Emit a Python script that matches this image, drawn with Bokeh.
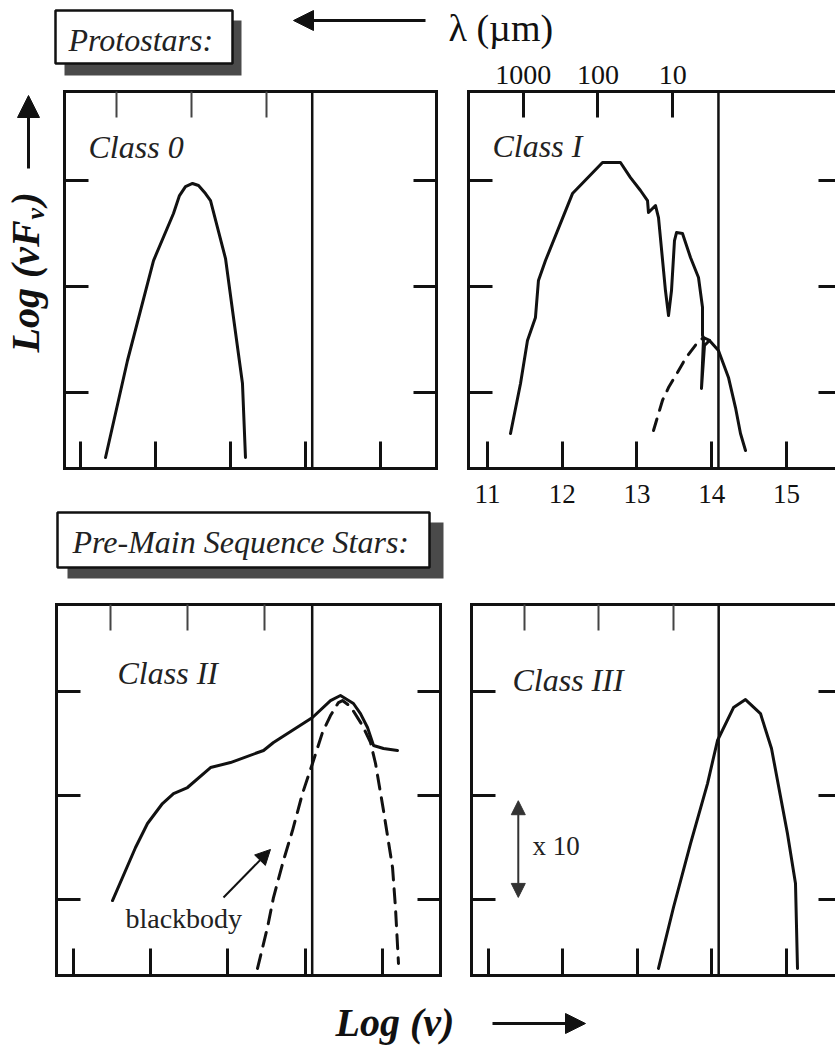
import numpy as np
from bokeh.plotting import figure
from bokeh.models import (Range1d, LinearAxis, FixedTicker, Span, Label, Arrow,
                          NormalHead)
from bokeh.layouts import column, row
from bokeh.embed import file_html
from bokeh.resources import INLINE
from bokeh.core.properties import value

# ---------------- data ----------------
C_UM = 2.998e14  # speed of light in micron/s
nu_ticks = [11, 12, 13, 14, 15]
nu_tick_labels = ["11", "12", "13", "14", "15"]
lam_ticks_um = [1000, 100, 10]
lam_tick_labels = ["1000", "100", "10"]
flux_ticks = [1, 2, 3]
divider_lognu = 14.09

# Class 0 (log nu, log nuFnu)
class0_lognu = [11.334, 11.627, 11.894, 11.974, 12.24, 12.32, 12.40, 12.494, 12.574, 12.667,
                12.734, 12.934, 13.04, 13.16, 13.20]
class0_flux = [0.387, 1.302, 2.028, 2.245, 2.689, 2.858, 2.943, 2.972, 2.953, 2.877,
               2.811, 2.264, 1.708, 1.085, 0.387]

# Class I observed SED
class1_lognu = [11.308, 11.442, 11.535, 11.642, 11.682, 11.776, 12.137, 12.539, 12.779, 12.913,
                13.047, 13.141, 13.154, 13.248, 13.288, 13.381, 13.422, 13.462, 13.502, 13.529,
                13.609, 13.716, 13.823, 13.877, 13.877, 13.890, 13.863, 13.903, 13.970, 14.090,
                14.224, 14.318, 14.385, 14.452]
class1_flux = [0.613, 1.085, 1.491, 1.708, 2.057, 2.245, 2.877, 3.170, 3.170, 3.028,
               2.906, 2.811, 2.698, 2.764, 2.651, 1.962, 1.726, 1.962, 2.434, 2.509,
               2.500, 2.274, 2.085, 1.802, 1.538, 1.509, 1.038, 1.443, 1.491, 1.396,
               1.142, 0.858, 0.613, 0.453]
# Class I stellar photosphere (dashed)
class1_bb_lognu = [13.221, 13.341, 13.422, 13.542, 13.649, 13.810, 13.890, 13.970]
class1_bb_flux = [0.642, 0.925, 1.047, 1.189, 1.321, 1.472, 1.519, 1.491]

# Class II observed SED
class2_lognu = [11.505, 11.803, 11.958, 12.152, 12.295, 12.476, 12.774, 13.032, 13.460, 13.589,
                14.094, 14.327, 14.456, 14.624, 14.715, 14.806, 14.884, 15.013, 15.194]
class2_flux = [0.990, 1.500, 1.731, 1.923, 2.019, 2.077, 2.269, 2.317, 2.433, 2.510,
               2.750, 2.913, 2.962, 2.885, 2.788, 2.654, 2.481, 2.452, 2.433]
# Class II blackbody (dashed)
class2_bb_lognu = [13.382, 13.511, 13.589, 13.718, 13.835, 13.964, 14.094, 14.223, 14.327, 14.430,
                   14.482, 14.586, 14.741, 14.845, 14.910, 15.013, 15.130, 15.168, 15.207]
class2_bb_flux = [0.337, 0.731, 1.019, 1.375, 1.663, 2.019, 2.308, 2.606, 2.769, 2.894,
                  2.913, 2.856, 2.673, 2.510, 2.308, 1.856, 1.308, 0.923, 0.385]

# Class III
class3_lognu = [13.282, 13.483, 13.712, 13.940, 14.074, 14.289, 14.450, 14.651, 14.799, 15.013, 15.121, 15.148]
class3_flux = [0.337, 0.923, 1.538, 2.115, 2.529, 2.846, 2.923, 2.788, 2.452, 1.635, 1.154, 0.337]

lam_tick_pos = [round(float(np.log10(C_UM / l)), 3) for l in lam_ticks_um]

SERIF = "Liberation Serif"
INK = "#111111"
GREYTXT = "#222222"

# top-right panel geometry (page pixels) -> shared log(nu) scale for strips
TR_XR = (10.746, 15.656)
TR_LEFT_PX, PAGE_W = 468, 835
NU_PER_PX = (TR_XR[1] - TR_XR[0]) / (PAGE_W - TR_LEFT_PX)
STRIP_NU = (TR_XR[0] - TR_LEFT_PX * NU_PER_PX, TR_XR[1])


def panel(width, height, borders, xr, yr):
    l, r, t, b = borders
    p = figure(width=width, height=height, x_range=Range1d(*xr), y_range=Range1d(*yr),
               x_axis_type=None, y_axis_type=None, toolbar_location=None,
               output_backend="svg", min_border_left=l, min_border_right=r,
               min_border_top=t, min_border_bottom=b)
    p.outline_line_color = None
    p.background_fill_color = "white"
    p.border_fill_color = "white"
    return p


def strip(width, height, xr, yr, borders=(0, 0, 0, 0)):
    return panel(width, height, borders, xr, yr)


def add_axis(p, side, ticks, tick_len, tick_w=3, line=True, tick_color=INK):
    ax = LinearAxis(ticker=FixedTicker(ticks=list(ticks), minor_ticks=[]))
    ax.axis_line_width = 3
    ax.axis_line_color = INK if line else None
    ax.axis_line_cap = "square"
    ax.major_tick_in = tick_len
    ax.major_tick_out = 0
    ax.minor_tick_in = 0
    ax.minor_tick_out = 0
    ax.major_tick_line_width = tick_w
    ax.major_tick_line_color = tick_color
    ax.major_label_text_font_size = "0px"
    ax.major_label_text_color = None
    ax.major_label_standoff = 0
    p.add_layout(ax, side)
    return ax


def dress(p, right_line=True, top_w=2, top_color="#444444", right_len=23):
    add_axis(p, "left", flux_ticks, 24)
    add_axis(p, "right", flux_ticks, right_len, line=right_line)
    add_axis(p, "below", nu_ticks, 27)
    add_axis(p, "above", lam_tick_pos, 26, tick_w=top_w, tick_color=top_color)
    p.add_layout(Span(location=divider_lognu, dimension="height",
                      line_color=INK, line_width=2.5))


def text_label(p, x, y, text, size, style="normal", color=GREYTXT, angle=0.0, **kw):
    p.add_layout(Label(x=x, y=y, text=text, text_font=SERIF, text_font_style=style,
                       text_font_size=size, text_color=color, text_baseline="middle",
                       angle=angle, **kw))


def class_label(p, x, y, text):
    text_label(p, x, y, text, "32px", style="italic")


def curve(p, x, y, dash="solid"):
    p.line(x, y, line_width=3, line_color=INK, line_dash=dash,
           line_join="round", line_cap="round")


def boxed_title(p, box, shadow, text, tx, ty):
    p.quad(left=[shadow[0]], right=[shadow[1]], top=[shadow[2]], bottom=[shadow[3]],
           fill_color="#4a4a4a", line_color=None)
    p.quad(left=[box[0]], right=[box[1]], top=[box[2]], bottom=[box[3]],
           fill_color="white", line_color=INK, line_width=2.5)
    text_label(p, tx, ty, text, "32px", style="italic")


# ---------------- header strip (page y 0..89) ----------------
hd = strip(835, 89, (0, 835), (89, 0))
hd.extra_x_ranges = {"nu": Range1d(*STRIP_NU)}
boxed_title(hd, (55, 232, 10, 63), (64, 241, 20, 75), "Protostars:", 68, 39)
hd.add_layout(Arrow(end=NormalHead(size=20, fill_color=INK, line_color=INK),
                    x_start=425, y_start=20, x_end=293, y_end=20,
                    line_width=3, line_color=INK))
text_label(hd, 448, 27, "\u03bb (\u00b5m)", "38px", color=INK)
hd.text(x=lam_tick_pos, y=[74] * len(lam_tick_pos), text=lam_tick_labels,
        x_range_name="nu", text_font=value(SERIF), text_font_size=value("28px"),
        text_color=INK, text_align="center", text_baseline="middle")

# ---------------- left strip with vertical title (page y 89..470) ----------------
ls = strip(50, 381, (0, 50), (468, 91), borders=(0, 0, 2, 2))
text_label(ls, 25, 352, "Log (\u03bdF", "40px", style="bold italic", color=INK,
           angle=np.pi / 2)
text_label(ls, 35, 219, "\u03bd", "26px", style="bold italic", color=INK, angle=np.pi / 2)
text_label(ls, 25, 205, ")", "40px", style="bold italic", color=INK, angle=np.pi / 2)
ls.add_layout(Arrow(end=NormalHead(size=22, fill_color=INK, line_color=INK),
                    x_start=28, y_start=168, x_end=28, y_end=95,
                    line_width=3, line_color=INK))

# ---------------- Top left: Class 0 ----------------
tl = panel(395, 381, (14, 9, 2, 2), (10.787, 15.747), (0.283, 3.840))
dress(tl)
curve(tl, class0_lognu, class0_flux)
class_label(tl, 11.107, 3.321, "Class 0")

# ---------------- Top right: Class I ----------------
tr = panel(390, 381, (23, 0, 2, 2), TR_XR, (0.283, 3.840))
dress(tr, right_line=False, top_w=3, top_color=INK, right_len=17)
curve(tr, class1_lognu, class1_flux)
curve(tr, class1_bb_lognu, class1_bb_flux, dash="12 9")
class_label(tr, 11.067, 3.33, "Class I")

# ---------------- middle strip (page y 470..602) ----------------
md = strip(835, 132, (0, 835), (602, 470))
md.extra_x_ranges = {"nu": Range1d(*STRIP_NU)}
md.text(x=nu_ticks, y=[493] * len(nu_ticks), text=nu_tick_labels, x_range_name="nu",
        text_font=value(SERIF), text_font_size=value("27px"), text_color=INK,
        text_align="center", text_baseline="middle")
boxed_title(md, (57, 429, 512, 567), (67, 443, 522, 578), "Pre-Main Sequence Stars:", 72, 541)

# ---------------- Bottom left: Class II ----------------
bl = panel(455, 375, (56, 15, 2, 2), (10.78, 15.751), (0.269, 3.837))
dress(bl)
curve(bl, class2_lognu, class2_flux)
curve(bl, class2_bb_lognu, class2_bb_flux, dash="14 9")
class_label(bl, 11.57, 3.178, "Class II")
text_label(bl, 11.673, 0.8125, "blackbody", "28px")
bl.add_layout(Arrow(end=NormalHead(size=15, fill_color=INK, line_color=INK),
                    x_start=12.942, y_start=1.019, x_end=13.55, y_end=1.481,
                    line_width=2, line_color=INK))

# ---------------- Bottom right: Class III ----------------
br = panel(380, 375, (16, 0, 2, 2), (10.772, 15.658), (0.269, 3.837))
dress(br, right_line=False, right_len=17)
curve(br, class3_lognu, class3_flux)
class_label(br, 11.322, 3.115, "Class III")
br.add_layout(Arrow(start=NormalHead(size=14, fill_color="#333333", line_color="#333333"),
                    end=NormalHead(size=14, fill_color="#333333", line_color="#333333"),
                    x_start=11.40, y_start=1.02, x_end=11.40, y_end=1.95,
                    line_width=2, line_color="#333333"))
text_label(br, 11.591, 1.519, "x 10", "27px")

# ---------------- footer strip (page y 977..1048) ----------------
ft = strip(835, 71, (0, 835), (1048, 977))
text_label(ft, 335, 1022, "Log (\u03bd)", "40px", style="bold italic", color=INK)
ft.add_layout(Arrow(end=NormalHead(size=20, fill_color=INK, line_color=INK),
                    x_start=492, y_start=1023, x_end=585, y_end=1023,
                    line_width=3, line_color=INK))

layout = column(hd, row(ls, tl, tr), md, row(bl, br), ft)
open("out.html", "w").write(file_html(layout, INLINE))
